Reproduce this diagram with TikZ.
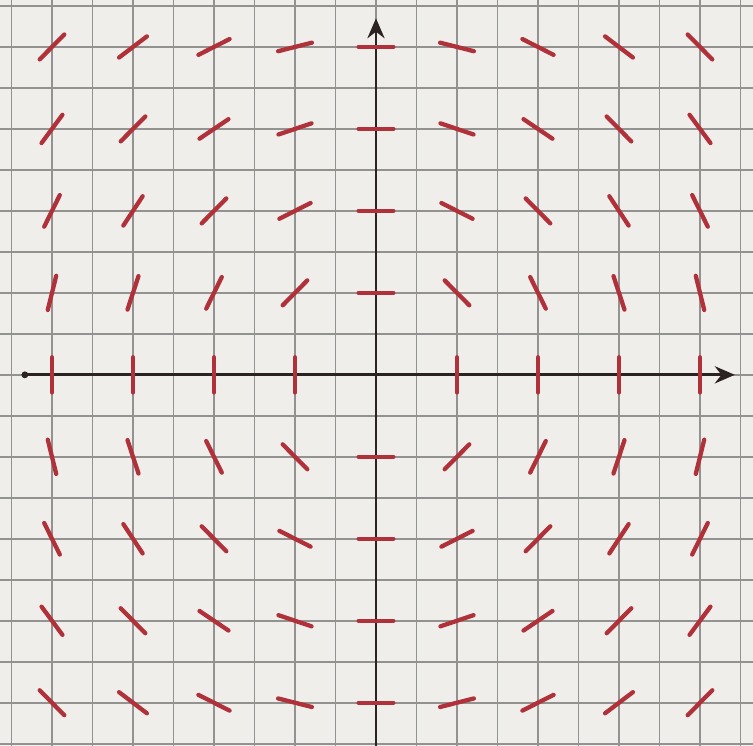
\documentclass[tikz,border=0pt]{standalone}
\usepackage{tikz}
\usetikzlibrary{arrows.meta}
\definecolor{paper}{HTML}{EFEEEA}
\definecolor{gridgray}{HTML}{929290}
\definecolor{marker}{HTML}{B0313A}
\definecolor{pen}{HTML}{2B2222}

\begin{document}
\begin{tikzpicture}[x=0.5cm,y=0.506cm,
    gridline/.style={gridgray, line width=0.6pt},
    axisline/.style={pen, line width=1.05pt},
    slopemark/.style={marker, line width=1.5pt, line cap=round}]
  \useasboundingbox (-9.284,-9.049) rectangle (9.309,9.146);
  \fill[paper] (-9.284,-9.049) rectangle (9.309,9.146);
  \clip (-9.284,-9.049) rectangle (9.309,9.146);
  % squared paper
  \draw[gridline, xstep=1, ystep=1] (-10,-10) grid (10,10);
  % axes
  \coordinate (xl) at (-8.67,0);
  \coordinate (xr) at (8.86,0);
  \coordinate (yb) at (0,-9.3);
  \coordinate (yt) at (0,8.7);
  \draw[axisline,-{Stealth[length=7pt,width=6pt]}] (xl) -- (xr);
  \draw[axisline,-{Stealth[length=7pt,width=6pt]}] (yb) -- (yt);
  \fill[pen] (xl) circle (1.2pt);
  % slope field dy/dx = -x/y, one mark every two squares
  \foreach \i in {-4,...,4}{
    \foreach \j in {-4,...,4}{
      \pgfmathtruncatemacro{\rr}{\i*\i+\j*\j}
      \ifnum\rr>0
        \pgfmathsetmacro{\dx}{0.43*\j/sqrt(\rr)}
        \pgfmathsetmacro{\dy}{-0.43*\i/sqrt(\rr)}
        \draw[slopemark] ({2*\i-\dx},{2*\j-\dy}) -- ({2*\i+\dx},{2*\j+\dy});
      \fi
    }
  }
\end{tikzpicture}
\end{document}
